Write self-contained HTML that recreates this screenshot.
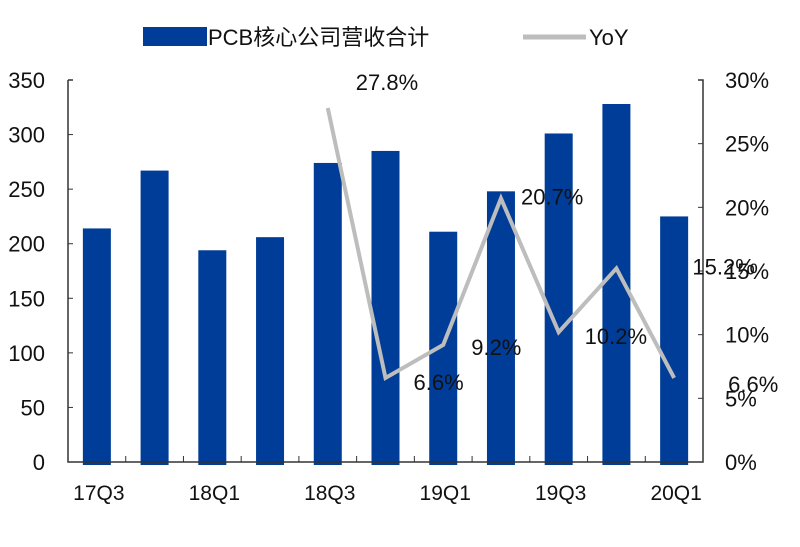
<!DOCTYPE html>
<html><head><meta charset="utf-8"><style>
body{margin:0;background:#fff}
text{font-family:"Liberation Sans","Noto Sans CJK SC",sans-serif;fill:#111}
</style></head><body>
<svg id="c" width="800" height="542"></svg>
<script>
const categories=["17Q3","17Q4","18Q1","18Q2","18Q3","18Q4","19Q1","19Q2","19Q3","19Q4","20Q1"];
const revenue=[214,267,194,206,274,285,211,248,301,328,225];
const yoyValues=[null,null,null,null,27.8,6.6,9.2,20.7,10.2,15.2,6.6];
const yoyLabels=["","","","","27.8%","6.6%","9.2%","20.7%","10.2%","15.2%","6.6%"];
const leftTicks=[0,50,100,150,200,250,300,350];
const rightTicks=[0,5,10,15,20,25,30];
const xLabelIdx=[0,2,4,6,8,10];
const NS="http://www.w3.org/2000/svg",svg=document.getElementById('c');
const X0=68,X1=703,Y0=462,Y1=80;
const bw=(X1-X0)/categories.length;
const xc=i=>X0+bw*(i+0.5);
const yL=v=>Y0-(v/350)*(Y0-Y1);
const yR=v=>Y0-(v/30)*(Y0-Y1);
function el(t,a,p){const e=document.createElementNS(NS,t);for(const k in a)e.setAttribute(k,a[k]);(p||svg).appendChild(e);return e;}
revenue.forEach((v,i)=>{const r=el('rect',{x:xc(i)-14,y:yL(v),width:28,height:Y0-yL(v)+3,fill:'#003D98'});

});
const ax=el('path',{d:`M${X0} ${Y1}H${X0+5}M${X0} ${Y1}V${Y0}H${X1}V${Y1}H${X1-5}`,stroke:'#333',fill:'none','stroke-width':1.5});

for(let i=1;i<categories.length;i++){el('line',{x1:X0+bw*i,x2:X0+bw*i,y1:Y0,y2:Y0-6,stroke:'#333'});}
leftTicks.forEach(v=>{el('line',{x1:X0,x2:X0+5,y1:yL(v),y2:yL(v),stroke:'#333'});
const t=el('text',{x:X0-23,y:yL(v)+8,'text-anchor':'end','font-size':22});t.textContent=v;
});
rightTicks.forEach(v=>{el('line',{x1:X1,x2:X1-5,y1:yR(v),y2:yR(v),stroke:'#333'});
const t=el('text',{x:X1+22,y:yR(v)+8,'font-size':22});t.textContent=v+'%';
});
xLabelIdx.forEach(i=>{const t=el('text',{x:xc(i)+2,y:500,'text-anchor':'middle','font-size':21});t.textContent=categories[i];
});
const pts=yoyValues.map((v,i)=>v==null?null:[xc(i),yR(v)]).filter(p=>p);
const ln=el('polyline',{points:pts.map(p=>p.join(',')).join(' '),fill:'none',stroke:'#BDBDBD','stroke-width':4});

const off=[null,null,null,null,[28,-18],[28,12],[28,10],[20,6],[26,12],[76,6],[54,14]];
yoyValues.forEach((v,i)=>{if(v==null)return;const t=el('text',{x:xc(i)+off[i][0],y:yR(v)+off[i][1],'font-size':22});t.textContent=yoyLabels[i];
});
const lg=el('g',{});
el('rect',{x:143,y:27,width:64,height:19,fill:'#003D98'},lg);
const t1=el('text',{x:208,y:45,'font-size':22},lg);t1.textContent='PCB核心公司营收合计';
el('line',{x1:523,x2:586,y1:37,y2:37,stroke:'#BDBDBD','stroke-width':5},lg);
const t2=el('text',{x:589,y:45,'font-size':22},lg);t2.textContent='YoY';
</script>
</body></html>
